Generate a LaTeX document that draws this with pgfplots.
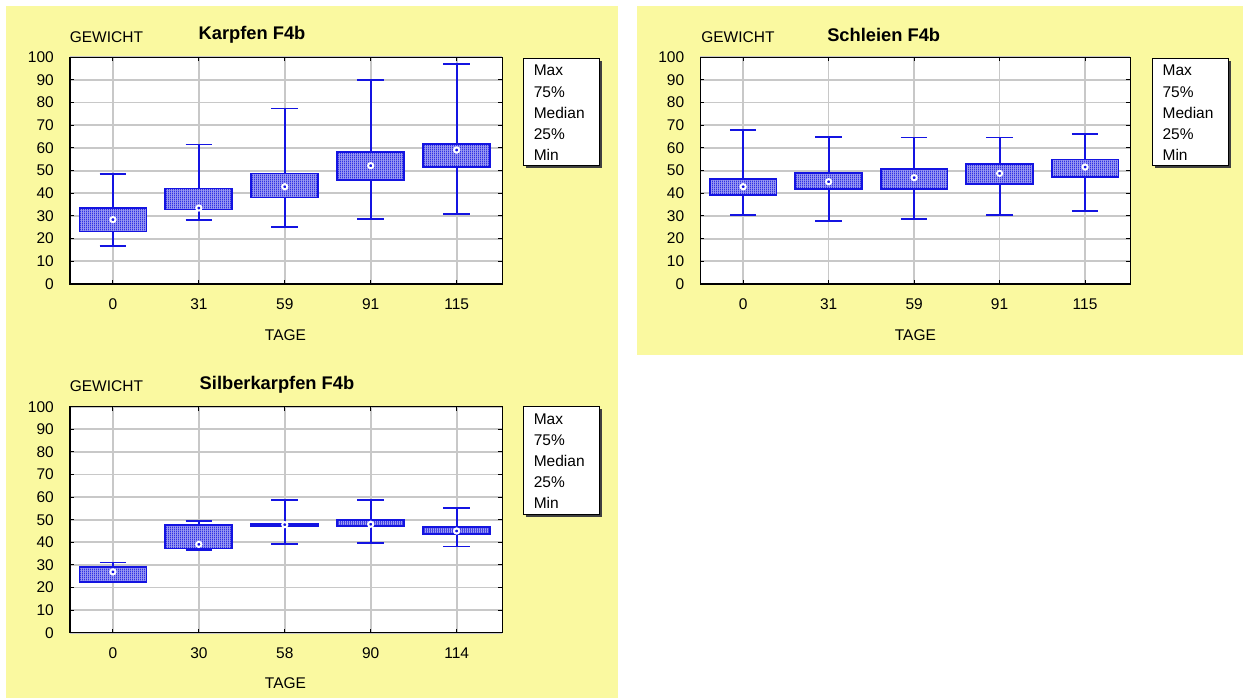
\documentclass[border=0pt]{standalone}
\usepackage{pgfplots}
\pgfplotsset{compat=1.18}
\usepgfplotslibrary{statistics}
\usetikzlibrary{patterns.meta}
\usepackage{fontspec}
\setmainfont{Liberation Sans}

\definecolor{panelyellow}{RGB}{250,249,160}
\definecolor{boxblue}{RGB}{20,20,225}
\definecolor{gridgray}{RGB}{200,200,200}

\newcommand{\lbl}{\fontsize{15.5pt}{18pt}\selectfont}
\newcommand{\ttl}{\fontsize{18.3pt}{21pt}\selectfont\bfseries}

% blue stripes with a checkered column between them, used inside the boxes
\pgfdeclarepattern{
  name=stripechecker,
  type=uncolored,
  bottom left={\pgfpoint{0pt}{0pt}},
  top right={\pgfpoint{2pt}{2pt}},
  tile size={\pgfpoint{2pt}{2pt}},
  code={
    \pgfpathrectangle{\pgfpoint{0pt}{0pt}}{\pgfpoint{1pt}{2pt}}
    \pgfpathrectangle{\pgfpoint{1pt}{1pt}}{\pgfpoint{1pt}{1pt}}
    \pgfusepath{fill}
  }
}

\pgfplotsset{
  panel/.style={
    scale only axis, anchor=south west,
    xmin=-0.5, xmax=4.53, ymin=0, ymax=100,
    xtick={0,...,4}, ytick={0,10,...,100},
    grid=major, major grid style={gridgray, line width=1.7pt},
    axis line style={black, line width=1.3pt},
    axis background/.style={fill=white},
    tick align=inside, major tick length=4pt,
    major tick style={black, line width=1pt},
    tick label style={font=\lbl},
    /pgf/number format/assume math mode=true,
    xticklabel style={anchor=center, yshift=-20pt},
    yticklabel style={anchor=east, inner sep=0pt, xshift=-16pt},
    boxplot/draw direction=y,
    boxplot/box extend=0.78,
    boxplot/whisker extend=0.31,
    boxplot/draw/median/.code={},
    boxplot/every box/.style={fill=boxblue!35!white, postaction={pattern=stripechecker, pattern color=boxblue}},
  },
  bx/.style={boxblue, line width=1.8pt},
  med/.style={only marks, mark=*, mark size=2.6pt,
    mark options={fill=boxblue, draw=white, line width=2pt}},
}

\begin{document}
\begin{tikzpicture}[x=1pt, y=-1pt]
  % page and panel backgrounds
  \fill[white] (0,0) rectangle (1243,698);
  \fill[panelyellow] (6,6) rectangle (617.7,698);
  \fill[panelyellow] (637,6) rectangle (1243,354.7);

  % ---------------- Karpfen F4b ----------------
  \begin{axis}[panel, at={(70pt,-284pt)}, width=432.2pt, height=226.7pt,
      xticklabels={0,31,59,91,115}]
    \addplot[bx, boxplot prepared={draw position=0, lower whisker=16.9, lower quartile=23.2, median=28.4, upper quartile=33.4, upper whisker=48.4}] coordinates {};
    \addplot[bx, boxplot prepared={draw position=1, lower whisker=28.4, lower quartile=32.9, median=33.5, upper quartile=42.1, upper whisker=61.5}] coordinates {};
    \addplot[bx, boxplot prepared={draw position=2, lower whisker=25.1, lower quartile=38.2, median=42.9, upper quartile=48.7, upper whisker=77.4}] coordinates {};
    \addplot[bx, boxplot prepared={draw position=3, lower whisker=28.5, lower quartile=45.7, median=52.2, upper quartile=58.4, upper whisker=90.0}] coordinates {};
    \addplot[bx, boxplot prepared={draw position=4, lower whisker=30.9, lower quartile=51.5, median=59.1, upper quartile=61.9, upper whisker=97.1}] coordinates {};
    \addplot[med] coordinates {(0,28.4) (1,33.5) (2,42.9) (3,52.2) (4,59.1)};
  \end{axis}
  \node[anchor=base west, inner sep=0pt, font=\lbl] at (69.6,42.9) {GEWICHT};
  \node[anchor=base, inner sep=0pt, font=\ttl] at (252,40) {Karpfen F4b};
  \node[anchor=base, inner sep=0pt, font=\lbl] at (285.5,340.5) {TAGE};

  % ---------------- Schleien F4b ----------------
  \begin{axis}[panel, at={(700.4pt,-284pt)}, width=430pt, height=226.7pt,
      xticklabels={0,31,59,91,115}]
    \addplot[bx, boxplot prepared={draw position=0, lower whisker=30.3, lower quartile=39.4, median=42.9, upper quartile=46.2, upper whisker=68.1}] coordinates {};
    \addplot[bx, boxplot prepared={draw position=1, lower whisker=27.9, lower quartile=41.8, median=45.1, upper quartile=49.1, upper whisker=65.0}] coordinates {};
    \addplot[bx, boxplot prepared={draw position=2, lower whisker=28.5, lower quartile=41.8, median=46.9, upper quartile=50.7, upper whisker=64.6}] coordinates {};
    \addplot[bx, boxplot prepared={draw position=3, lower whisker=30.4, lower quartile=44.1, median=48.8, upper quartile=53.1, upper whisker=64.6}] coordinates {};
    \addplot[bx, boxplot prepared={draw position=4, lower whisker=32.1, lower quartile=47.1, median=51.6, upper quartile=54.9, upper whisker=66.2}] coordinates {};
    \addplot[med] coordinates {(0,42.9) (1,45.1) (2,46.9) (3,48.8) (4,51.6)};
  \end{axis}
  \node[anchor=base west, inner sep=0pt, font=\lbl] at (701.1,42.9) {GEWICHT};
  \node[anchor=base, inner sep=0pt, font=\ttl] at (883.7,41.5) {Schleien F4b};
  \node[anchor=base, inner sep=0pt, font=\lbl] at (915.4,340.5) {TAGE};

  % ---------------- Silberkarpfen F4b ----------------
  \begin{axis}[panel, at={(70pt,-632.7pt)}, width=432.2pt, height=226pt,
      xticklabels={0,30,58,90,114}]
    \addplot[bx, boxplot prepared={draw position=0, lower whisker=22.3, lower quartile=22.3, median=26.9, upper quartile=28.9, upper whisker=31.1}] coordinates {};
    \addplot[bx, boxplot prepared={draw position=1, lower whisker=36.7, lower quartile=37.3, median=39.1, upper quartile=47.7, upper whisker=49.6}] coordinates {};
    \addplot[bx, boxplot prepared={draw position=2, lower whisker=39.1, lower quartile=47.2, median=47.8, upper quartile=48.2, upper whisker=58.8}] coordinates {};
    \addplot[bx, boxplot prepared={draw position=3, lower whisker=39.8, lower quartile=47.1, median=48.0, upper quartile=49.8, upper whisker=58.8}] coordinates {};
    \addplot[bx, boxplot prepared={draw position=4, lower whisker=38.1, lower quartile=43.7, median=45.0, upper quartile=46.9, upper whisker=55.3}] coordinates {};
    \addplot[med] coordinates {(0,26.9) (1,39.1) (2,47.8) (3,48.0) (4,45.0)};
  \end{axis}
  \node[anchor=base west, inner sep=0pt, font=\lbl] at (69.6,391.5) {GEWICHT};
  \node[anchor=base, inner sep=0pt, font=\ttl] at (277,389.3) {Silberkarpfen F4b};
  \node[anchor=base, inner sep=0pt, font=\lbl] at (285.5,688.8) {TAGE};

  % ---------------- legend boxes ----------------
  \foreach \lx/\ly/\tx in {523.6/58.3/533.6, 1152.7/58.3/1162.4, 523.6/406.7/533.6} {
    \fill[black!75] (\lx+2.5,\ly+2.5) rectangle (\lx+78.1,\ly+110.2);
    \draw[black, fill=white, line width=1pt] (\lx,\ly) rectangle (\lx+75.6,\ly+107.7);
    \foreach \t [count=\i from 0] in {Max,75\%,Median,25\%,Min} {
      \node[anchor=west, inner sep=0pt, font=\lbl] at (\tx,\ly+12.4+\i*21) {\t};
    }
  }
\end{tikzpicture}
\end{document}
